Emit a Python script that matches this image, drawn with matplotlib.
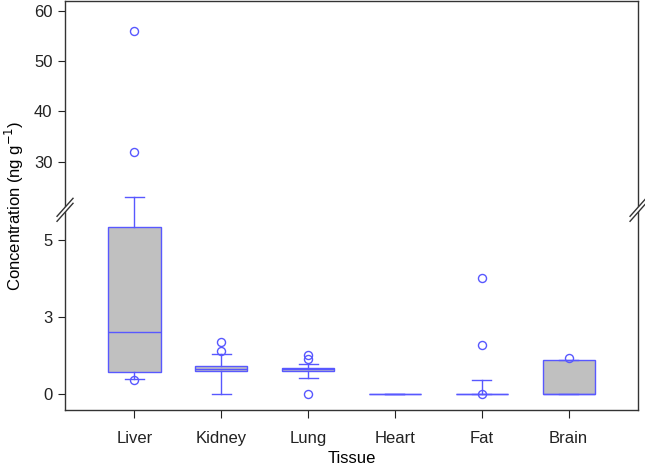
import numpy as np
import matplotlib
matplotlib.use("Agg")
import matplotlib.pyplot as plt
from matplotlib.patches import Polygon

plt.rcParams['font.family'] = ['Liberation Sans', 'DejaVu Sans']

# box statistics (ng/g)
tissues = ["Liver", "Kidney", "Lung", "Heart", "Fat", "Brain"]
q1 = [0.71, 0.76, 0.76, 0.0, 0.0, 0.0]
med = [2.01, 0.80, 0.80, 0.0, 0.0, 0.0]
q3 = [5.43, 0.92, 0.84, 0.0, 0.0, 1.11]
whislo = [0.50, 0.0, 0.51, 0.0, 0.0, 0.0]
whishi = [23.0, 1.31, 0.98, 0.0, 0.47, 1.11]
fliers = [[0.46, 32.0, 56.1], [1.40, 1.68], [0.0, 1.13, 1.28], [], [0.0, 1.61, 3.78], [1.16]]

ytick_vals = [0, 2.5, 5, 30, 40, 50, 60]
ytick_labels = ["0", "3", "5", "30", "40", "50", "60"]

# broken axis: lower part 0..6, upper part 21..62
data_bp = [-2.0, 0.0, 6.0, 21.0, 70.0]
disp_bp = [-61.4, 0.0, 184.2, 187.1, 433.1]


def fwd(v):
    return np.interp(v, data_bp, disp_bp)


def inv(d):
    return np.interp(d, disp_bp, data_bp)


blue = '#5858ff'
stats = []
for i, name in enumerate(tissues):
    stats.append(dict(label=name, q1=q1[i], med=med[i], q3=q3[i],
                      whislo=whislo[i], whishi=whishi[i], fliers=np.array(fliers[i])))

fig = plt.figure(figsize=(6.45, 4.65), dpi=100)
ax = fig.add_axes([0.1008, 0.1183, 0.8884, 0.8795])
ax.set_yscale('function', functions=(fwd, inv))

ax.bxp(stats, positions=range(1, 7), widths=0.6, capwidths=0.22, patch_artist=True,
       boxprops=dict(facecolor='#c0c0c0', edgecolor=blue, linewidth=1.0),
       medianprops=dict(color=blue, linewidth=1.0),
       whiskerprops=dict(color=blue, linewidth=1.0),
       capprops=dict(color=blue, linewidth=1.0),
       flierprops=dict(marker='o', markerfacecolor='none', markeredgecolor=blue,
                       markersize=5.8, markeredgewidth=1.0))

ax.set_xlim(0.2, 6.8)
ax.set_ylim(-0.52, 62.0)
ax.set_yticks(ytick_vals)
ax.set_yticklabels(ytick_labels)
ax.tick_params(axis='both', direction='out', length=5, width=0.8, labelsize=12,
               colors='#222222', pad=4)
ax.tick_params(axis='x', length=6, pad=9)
for s in ax.spines.values():
    s.set_color('#333333')
    s.set_linewidth(1.0)

ax.set_xlabel("Tissue", fontsize=12, labelpad=4)
ax.set_ylabel("Concentration (ng g$^{-1}$)", fontsize=12, labelpad=6)

# break marks on both spines
W, H = 573.0, 409.0
yb = (fwd(6.0) + 16.0) / H
for xa in (0.0, 1.0):
    dx, dy, gap = 8.0 / W, 9.0 / H, 5.0 / H
    poly = Polygon([(xa - dx, yb - dy - gap / 2), (xa + dx, yb + dy - gap / 2),
                    (xa + dx, yb + dy + gap / 2), (xa - dx, yb - dy + gap / 2)],
                   closed=True, transform=ax.transAxes, facecolor='white',
                   edgecolor='none', clip_on=False, zorder=5)
    ax.add_patch(poly)
    for off in (-gap / 2, gap / 2):
        ax.plot([xa - dx, xa + dx], [yb - dy + off, yb + dy + off], color='#333333',
                lw=1.0, transform=ax.transAxes, clip_on=False, zorder=6)

fig.savefig("out.png", dpi=100)
